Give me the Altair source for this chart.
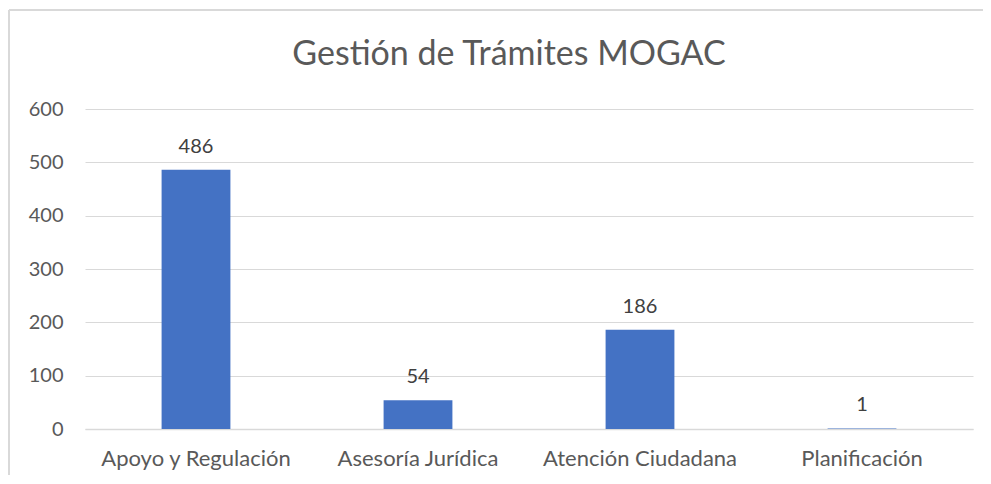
import altair as alt
import pandas as pd

categories = ["Apoyo y Regulación", "Asesoría Jurídica", "Atención Ciudadana", "Planificación"]
values = [486, 54, 186, 1]
y_ticks = [0, 100, 200, 300, 400, 500, 600]

df = pd.DataFrame({"cat": categories, "val": values})

FONT = "Lato"
TXT = "#595959"
GRID = "#D9D9D9"
BLUE = "#4472C4"

W, H = 888, 320

x = alt.X("cat:N", sort=categories, title=None,
          scale=alt.Scale(paddingInner=0.69, paddingOuter=0.345),
          axis=alt.Axis(labelAngle=0, labelFont=FONT, labelFontSize=22, labelColor=TXT,
                        labelLimit=400,
                        ticks=False, domain=True, domainColor=GRID, domainWidth=1.5,
                        labelPadding=19, grid=False))
y = alt.Y("val:Q", title=None,
          scale=alt.Scale(domain=[0, 600], nice=False),
          axis=alt.Axis(values=y_ticks, labelFont=FONT, labelFontSize=20, labelColor=TXT,
                        ticks=False, domain=False, labelPadding=22,
                        grid=True, gridColor=GRID, gridWidth=1.2))

bars = alt.Chart(df).mark_bar(color=BLUE).encode(x=x, y=y)
labels = alt.Chart(df).mark_text(font=FONT, fontSize=20, color="#404040",
                                 baseline="alphabetic", dy=-17).encode(
    x=alt.X("cat:N", sort=categories), y="val:Q", text="val:Q")

frame_left = alt.Chart(df).mark_rule(color=GRID, strokeWidth=1.5).encode(
    x=alt.value(-76), y=alt.value(-99), y2=alt.value(H + 80))
frame_top = alt.Chart(df).mark_rule(color=GRID, strokeWidth=1.5).encode(
    x=alt.value(-76), x2=alt.value(W + 30), y=alt.value(-99))

chart = alt.layer(frame_left, frame_top, bars, labels).properties(
    width=W, height=H,
    autosize=alt.AutoSizeParams(type="none"),
    padding={"left": 77, "top": 101, "right": 10, "bottom": 46},
    title=alt.TitleParams("Gestión de Trámites MOGAC", font=FONT, fontSize=34,
                          fontWeight="normal", color=TXT, anchor="middle",
                          baseline="alphabetic", offset=-90, dx=-20),
).configure_view(stroke=None)

chart.save("out.html", embed_options={"renderer": "svg", "actions": False})
